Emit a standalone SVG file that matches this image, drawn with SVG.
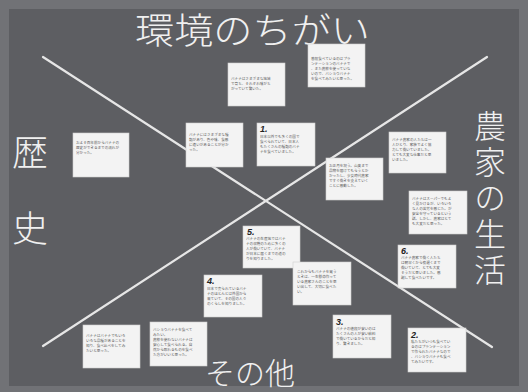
<svg xmlns="http://www.w3.org/2000/svg" width="528" height="392" viewBox="0 0 528 392">
<style>
.title{font-family:"Noto Sans CJK JP","Noto Sans",sans-serif;fill:#f0f0f0;font-weight:300}
.vert{writing-mode:vertical-rl}
.card rect{fill:#f3f3f3;stroke:#cfcfcf;stroke-width:0.6}
.card text{font-family:"Noto Sans CJK JP","Noto Sans",sans-serif;font-size:3.6px;fill:#5a5a5a}
.card .num{font-family:"Liberation Sans",sans-serif;font-size:9px;font-weight:bold;fill:#222;font-style:italic}
.line{stroke:#e6e6e6;stroke-width:2.2;stroke-linecap:round}
</style>
<rect x="0" y="0" width="528" height="392" fill="#717276"/>
<rect x="9" y="9" width="510" height="377" fill="#5d5e62"/>
<g id="connectors">
<line class="line" x1="43" y1="57" x2="492" y2="347"/>
<line class="line" x1="487" y1="57" x2="43" y2="346"/>
</g>
<g id="titles">
<text class="title" x="135" y="44" font-size="36" textLength="235" lengthAdjust="spacingAndGlyphs">環境のちがい</text>
<text class="title vert" x="30" y="134" font-size="36" letter-spacing="40">歴史</text>
<text class="title vert" x="490" y="110" font-size="32" letter-spacing="4">農家の生活</text>
<text class="title" x="205" y="384" font-size="30" textLength="90" lengthAdjust="spacingAndGlyphs">その他</text>
</g>
<g id="cardA" class="card"><rect x="228" y="63" width="57" height="43"/>
<text x="231" y="80">バナナはさまざまな地域</text><text x="231" y="85">で育ち、それぞれ味がち</text><text x="231" y="90">がっていて驚いた。</text></g>
<g id="cardB" class="card"><rect x="308" y="44" width="57" height="43"/>
<text x="311" y="60">普段食べているのはプラ</text><text x="311" y="65">ンテーションのバナナで</text><text x="311" y="70">、また農薬を使っていな</text><text x="311" y="75">いので、バショウバナナ</text><text x="311" y="80">を食べてみたいと思った。</text></g>
<g id="cardC" class="card"><rect x="73" y="133" width="56" height="44"/>
<text x="76" y="144">およそ百年前からバナナの</text><text x="76" y="149">歴史ができるまでの流れが</text><text x="76" y="154">分かった。</text></g>
<g id="cardD" class="card"><rect x="186" y="123" width="57" height="44"/>
<text x="189" y="136">バナナにはさまざまな種</text><text x="189" y="141">類があり、色や味、食感</text><text x="189" y="146">に違いがあることが分か</text><text x="189" y="151">った。</text></g>
<g id="cardE" class="card"><rect x="257" y="123" width="58" height="43"/>
<text class="num" x="260" y="132">1.</text>
<text x="260" y="138">日本以外でも多くの国で</text><text x="260" y="143">食べられていて、日本人</text><text x="260" y="148">もたくさんの種類のバナ</text><text x="260" y="153">ナを食べていました。</text></g>
<g id="cardF" class="card"><rect x="389" y="132" width="57" height="41"/>
<text x="392" y="141">バナナ農家の人たちは一</text><text x="392" y="146">人ひとり、家族でよく協</text><text x="392" y="151">力して働いていました。</text><text x="392" y="156">とても大変な仕事だと思</text><text x="392" y="161">いました。</text></g>
<g id="cardG" class="card"><rect x="326" y="158" width="57" height="42"/>
<text x="329" y="167">お正月を祝う。山奥まで</text><text x="329" y="172">品物を届けてもらうとか</text><text x="329" y="177">かったし、少女時代農家</text><text x="329" y="182">ですぐ働きを支えていく</text><text x="329" y="187">ことに感動した。</text></g>
<g id="cardH" class="card"><rect x="409" y="191" width="58" height="43"/>
<text x="412" y="200">バナナはスーパーでもよ</text><text x="412" y="205">く見かけるが、いろいろ</text><text x="412" y="210">な人の苦労を感じた。が</text><text x="412" y="215">安全を守っているという</text><text x="412" y="220">話。しかし、農家はとて</text><text x="412" y="225">も大変だと思った。</text></g>
<g id="cardI" class="card"><rect x="243" y="226" width="57" height="42"/>
<text class="num" x="247" y="235">5.</text>
<text x="246" y="240">バナナの生産地ではバナ</text><text x="246" y="245">ナの収穫のために多くの</text><text x="246" y="250">人が働いていて、バナナ</text><text x="246" y="255">が日本に届くまでの道の</text><text x="246" y="260">りを知りました。</text></g>
<g id="cardJ" class="card"><rect x="293" y="262" width="58" height="43"/>
<text x="297" y="273">これからもバナナを買う</text><text x="297" y="278">ときは、一生懸命作って</text><text x="297" y="283">いる農家さんのことを思</text><text x="297" y="288">い出して、大切に食べた</text><text x="297" y="293">い。</text></g>
<g id="cardK" class="card"><rect x="398" y="245" width="58" height="43"/>
<text class="num" x="401" y="254">6.</text>
<text x="401" y="259">バナナ農家で働く人たち</text><text x="401" y="264">は朝早くから夜遅くまで</text><text x="401" y="269">働いていて、とても大変</text><text x="401" y="274">そうだと思いました。感</text><text x="401" y="279">謝して食べたいです。</text></g>
<g id="cardL" class="card"><rect x="204" y="275" width="58" height="42"/>
<text class="num" x="207" y="284">4.</text>
<text x="207" y="290">日本で売られているバナ</text><text x="207" y="295">ナのほとんどは外国から</text><text x="207" y="300">来ていて、その国の人々</text><text x="207" y="305">のくらしを知りました。</text></g>
<g id="cardM" class="card"><rect x="83" y="325" width="57" height="43"/>
<text x="86" y="337">バナナはバナナでもいろ</text><text x="86" y="342">いろな品種があることを</text><text x="86" y="347">知り、食べ比べをしてみ</text><text x="86" y="352">たいと思った。</text></g>
<g id="cardN" class="card"><rect x="150" y="322" width="57" height="44"/>
<text x="153" y="331">バショウバナナを食べて</text><text x="153" y="336">みたい。</text><text x="153" y="341">農薬を使わないバナナは</text><text x="153" y="346">安心して食べられる。自</text><text x="153" y="351">然から取れるものを食べ</text><text x="153" y="356">た方がいいと思った。</text></g>
<g id="cardO" class="card"><rect x="333" y="315" width="58" height="43"/>
<text class="num" x="336" y="325">3.</text>
<text x="336" y="330">バナナの値段が安いのは</text><text x="336" y="335">たくさんの人が安い給料</text><text x="336" y="340">で働いているからだと知</text><text x="336" y="345">り、驚きました。</text></g>
<g id="cardP" class="card"><rect x="408" y="328" width="58" height="44"/>
<text class="num" x="411" y="338">2.</text>
<text x="411" y="343">私たちがいつも食べてい</text><text x="411" y="348">るのはプランテーション</text><text x="411" y="353">で作られたバナナなので</text><text x="411" y="358">、バショウバナナも食べ</text><text x="411" y="363">てみたいです。</text></g>
</svg>
